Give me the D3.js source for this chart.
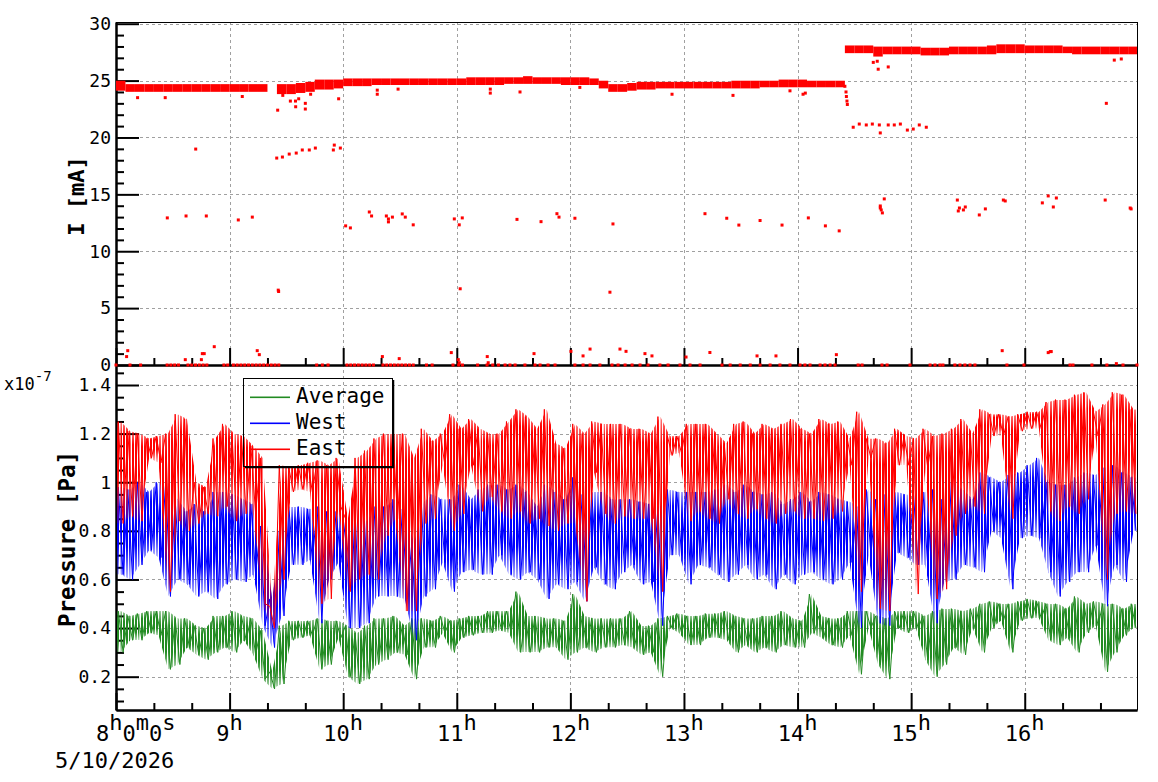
<!DOCTYPE html>
<html>
<head>
<meta charset="utf-8">
<script src="https://cdn.jsdelivr.net/npm/d3@7"></script>
<style>
  body { margin: 0; background: #fff; }
  svg { display: block; }
  text { font-family: "DejaVu Sans Mono", monospace; fill: #000; }
</style>
</head>
<body>
<svg id="chart" width="1158" height="782"></svg>
<script>
// ---- data ----
// time is in minutes after 8:00, 5/10/2026; pressure values are in units of 1e-7 Pa
const binMin = 5;

// pressure envelope per 5-minute bin: highest and lowest excursion
const eastHi = [1.25,1.21,1.2,1.18,1.19,1.2,1.28,1.26,1.0,0.98,1.18,1.24,1.2,1.19,1.15,1.1,0.49,1.07,1.06,1.07,1.08,1.09,
  1.07,1.1,0.85,1.1,1.13,1.18,1.2,1.2,1.2,1.1,1.22,1.17,1.2,1.28,1.22,1.26,1.22,1.2,1.2,1.25,1.3,
  1.27,1.22,1.3,1.16,1.14,1.24,1.2,1.25,1.24,1.24,1.24,1.22,1.22,1.2,1.27,1.19,1.19,1.24,1.24,1.24,1.2,1.16,
  1.24,1.25,1.2,1.24,1.22,1.24,1.26,1.22,1.2,1.26,1.24,1.25,1.18,1.29,1.18,1.18,1.16,1.22,1.19,1.18,1.22,
  1.19,1.2,1.22,1.26,1.2,1.3,1.28,1.28,1.27,1.28,1.29,1.29,1.33,1.34,1.34,1.36,1.37,1.29,1.32,1.37,1.36,1.3];
const eastLo = [0.83,0.86,0.84,1.1,1.08,0.55,0.84,0.8,0.83,0.87,0.86,0.9,0.84,0.87,0.87,0.5,0.4,0.6,0.96,0.97,0.96,0.5,
  0.52,0.9,0.55,0.6,0.62,0.6,0.78,0.85,0.47,0.47,0.83,0.85,1.07,0.8,0.87,1.07,0.88,0.94,0.88,0.85,0.88,
  0.83,0.85,0.82,0.8,0.83,0.83,0.51,1.04,0.87,0.83,0.86,0.85,0.85,0.85,0.55,1.11,1.12,0.84,0.88,0.85,0.83,0.93,
  0.87,0.85,0.89,0.85,0.83,0.87,0.88,0.85,0.85,0.84,0.85,0.88,1.07,0.55,1.1,0.48,0.47,1.07,1.07,0.54,1.06,
  0.52,0.56,0.78,0.87,0.9,0.87,1.19,1.19,0.85,1.21,1.22,1.22,0.88,0.84,0.9,0.87,0.93,1.19,0.6,0.87,0.88,0.87];
const westHi = [0.98,0.97,1.0,0.96,1.0,1.0,0.93,0.88,0.91,0.88,0.96,0.96,0.95,0.93,0.91,0.82,0.52,0.8,0.9,0.9,0.89,0.9,
  0.88,0.88,0.84,0.89,0.84,0.9,0.9,0.93,0.89,0.75,0.92,0.95,0.93,0.93,0.99,0.93,0.97,0.99,0.99,0.97,0.99,
  0.96,0.9,0.99,0.96,0.93,1.02,0.95,0.96,0.96,0.93,0.93,0.93,0.92,0.91,0.9,0.97,0.96,0.96,0.96,0.96,0.97,0.99,
  0.96,0.99,0.96,0.95,0.96,0.91,0.93,0.96,0.92,0.96,0.95,0.93,0.92,0.9,0.97,0.93,0.95,0.96,0.95,0.95,0.96,
  0.97,0.93,1.0,0.97,0.93,1.04,1.02,1.0,1.03,1.04,1.07,1.1,1.0,0.99,0.99,1.02,1.04,1.03,1.06,1.07,1.04,1.02];
const westLo = [0.62,0.6,0.66,0.72,0.69,0.53,0.6,0.58,0.53,0.55,0.52,0.58,0.6,0.59,0.62,0.41,0.32,0.45,0.66,0.66,0.68,0.42,
  0.6,0.67,0.4,0.4,0.42,0.53,0.53,0.53,0.52,0.35,0.53,0.56,0.67,0.55,0.63,0.64,0.62,0.62,0.7,0.62,0.6,
  0.63,0.6,0.52,0.58,0.56,0.59,0.51,0.65,0.58,0.56,0.63,0.66,0.58,0.59,0.41,0.7,0.7,0.58,0.66,0.65,0.62,0.59,
  0.62,0.66,0.6,0.62,0.56,0.62,0.58,0.62,0.63,0.6,0.58,0.6,0.67,0.4,0.7,0.42,0.41,0.71,0.69,0.66,0.66,
  0.42,0.59,0.6,0.66,0.65,0.63,0.8,0.77,0.56,0.77,0.78,0.77,0.63,0.53,0.59,0.63,0.63,0.74,0.49,0.66,0.59,0.8];
const avgHi = [0.47,0.45,0.46,0.47,0.47,0.47,0.44,0.44,0.41,0.4,0.45,0.45,0.47,0.45,0.44,0.39,0.22,0.41,0.43,0.43,0.43,0.44,
  0.43,0.43,0.41,0.38,0.41,0.44,0.44,0.45,0.41,0.44,0.44,0.43,0.45,0.43,0.44,0.45,0.45,0.47,0.47,0.47,0.55,
  0.45,0.45,0.44,0.44,0.43,0.54,0.45,0.44,0.44,0.44,0.44,0.47,0.41,0.41,0.44,0.45,0.46,0.45,0.45,0.46,0.46,0.47,
  0.45,0.44,0.44,0.45,0.45,0.47,0.44,0.43,0.54,0.45,0.44,0.44,0.47,0.47,0.47,0.45,0.44,0.47,0.47,0.47,0.45,
  0.47,0.48,0.48,0.47,0.48,0.5,0.51,0.5,0.5,0.51,0.52,0.51,0.5,0.5,0.48,0.53,0.5,0.51,0.5,0.5,0.48,0.5];
const avgLo = [0.3,0.35,0.35,0.38,0.37,0.23,0.25,0.32,0.29,0.27,0.3,0.32,0.3,0.35,0.29,0.19,0.15,0.17,0.35,0.36,0.37,0.23,
  0.25,0.36,0.2,0.17,0.19,0.25,0.27,0.3,0.29,0.19,0.32,0.32,0.38,0.3,0.36,0.37,0.38,0.38,0.39,0.38,0.3,
  0.3,0.3,0.32,0.32,0.27,0.3,0.32,0.3,0.32,0.32,0.33,0.32,0.29,0.3,0.2,0.4,0.38,0.33,0.33,0.36,0.36,0.35,
  0.3,0.33,0.3,0.32,0.3,0.33,0.32,0.32,0.38,0.36,0.33,0.32,0.37,0.21,0.4,0.25,0.19,0.4,0.38,0.4,0.27,
  0.2,0.25,0.32,0.29,0.4,0.3,0.4,0.43,0.3,0.43,0.44,0.44,0.35,0.33,0.36,0.3,0.38,0.41,0.22,0.3,0.37,0.4];

// beam current main band per 5-minute bin (null = no data)
const curLo = [24.2,24.1,24.1,24.1,24.1,24.1,24.1,24.1,24.1,24.1,24.1,24.1,24.1,24.1,24.1,24.1,null,
  23.9,23.9,24.0,24.1,24.3,24.3,24.4,
  24.6,24.6,24.6,24.7,24.7,24.7,24.7,24.7,24.7,24.7,24.7,24.7,24.7,
  24.7,24.7,24.7,24.7,24.8,24.8,24.8,24.8,24.8,24.8,24.7,24.7,24.7,24.7,
  24.4,24.1,24.1,24.2,
  24.3,24.3,24.4,24.4,24.4,24.4,24.4,24.4,24.4,24.4,24.4,
  24.4,24.4,24.5,24.5,24.5,24.5,24.5,24.5,24.5,24.5,24.5,
  27.5,27.5,27.5,27.2,
  27.4,27.4,27.4,27.4,27.3,27.3,27.3,27.4,27.4,27.4,27.4,27.4,27.5,27.5,27.5,27.5,27.5,27.5,27.5,27.5,27.4,27.4,27.4,27.4,27.4,27.4,27.4];
const curHi = [24.9,24.6,24.6,24.6,24.6,24.6,24.6,24.6,24.6,24.6,24.6,24.6,24.6,24.6,24.6,24.6,null,
  24.6,24.6,24.7,24.8,25.0,25.0,25.0,
  25.1,25.1,25.1,25.1,25.1,25.1,25.1,25.1,25.1,25.1,25.1,25.1,25.1,
  25.2,25.2,25.2,25.2,25.2,25.2,25.3,25.2,25.2,25.2,25.2,25.2,25.2,25.1,
  24.9,24.6,24.6,24.7,
  24.8,24.8,24.8,24.8,24.8,24.8,24.8,24.8,24.8,24.8,24.9,
  24.9,24.9,24.9,24.9,25.0,25.0,25.0,24.9,24.9,24.9,24.9,
  28.0,28.0,28.0,27.9,
  27.9,27.9,27.9,27.9,27.8,27.8,27.8,27.9,27.9,27.9,27.9,28.0,28.1,28.1,28.1,28.0,28.0,28.0,28.0,27.9,27.9,27.9,27.9,27.9,27.9,27.9,27.9];

// isolated beam current readings [mA] and their times [min]
const outT = [11.4,26,66.7,42.1,27.1,37,47.7,64.6,72,
  84.9,87.9,91.5,95.2,98.4,102.1,105.3,114.8,115.3,118.5,85.7,85.9,
  85.4,92.1,94.8,94.9,96.5,100,100,102.8,117.6,88.1,
  121.3,123.8,133.8,135,142.8,143.9,143.9,146,151.2,152.8,157,178.7,181.3,182.9,181.8,
  138,138,149,197.7,197.7,
  5.6,6.2,51.9,45.6,46.6,45.1,36.6,74.6,75.7,177.1,180.8,181.3,140.7,149.6,196.1,196.6,
  211.8,224.5,232.9,234,242.4,262.5,260.9,311.1,322.6,329,340.2,351.8,365.7,374.7,382,
  213.4,245,293.7,325.9,356,362.9,364.1,
  220.8,240.3,246.7,250.4,266.2,269.4,279.4,283.1,301.1,313.7,338.6,348.6,380.5,
  385,385.6,385.8,386.1,386.3,
  389.4,392.6,396.3,399.5,403.2,403.7,407.9,411.1,414.3,418,421.1,424.3,428,
  400,402.6,407.9,402.1,523.1,527.3,531,
  403.7,403.7,404.2,404.8,405.8,444.4,444.9,445.5,447.6,448.6,456,459.2,468.7,469.7,
  489.3,492.4,495.1,496.7,522.5,535.7,536.2,
  468.1,492.4,493.5,494,528.4];
const outV = [23.5,23.5,23.6,18.98,12.93,13.1,13.1,12.75,13.0,
  18.19,18.28,18.54,18.63,18.9,18.9,19.07,18.9,19.33,19.07,6.58,6.46,
  22.4,23.2,23.2,22.7,23.4,22.5,23.0,23.8,23.4,23.7,
  12.23,12.05,13.45,13.1,13.1,12.84,12.58,13.0,13.28,13.0,12.32,12.84,12.32,12.93,6.7,
  24.16,23.8,24.25,24.25,23.9,
  0.74,1.26,1.61,1.0,1.0,0.47,0.47,1.26,0.91,1.09,0.47,0.2,0.74,0.56,0.74,0.2,
  12.8,12.6,13.3,13.0,12.9,12.4,6.4,13.3,12.9,12.3,12.7,12.3,12.93,12.23,11.79,
  24.0,24.4,23.8,23.7,24.1,23.8,23.9,
  1.0,1.2,0.8,1.4,1.4,1.2,1.0,0.8,0.7,1.1,0.8,0.8,0.91,
  24.5,24.0,23.6,23.2,22.9,
  20.9,21.18,21.1,21.18,21.1,20.4,21.1,21.1,21.18,20.65,20.74,21.1,20.9,
  26.6,26.0,26.2,26.7,23.0,26.8,26.9,
  13.98,13.8,13.63,13.37,14.6,14.5,13.54,13.8,13.63,13.89,13.19,13.72,14.5,14.42,
  14.25,14.86,13.89,14.68,14.5,13.8,13.72,
  1.26,1.09,1.18,1.18,0.12];
// times [min] of readings at 0 mA
const zeroT = [0,7.4,13,27,29,31,33,38,40,42,44,46,48,57,59,62,64,66,68,70,72,74,76,78,80,82,84,86,
  106,109,112,122,124,126,128,130,132,134,136,141,143,145,147,149,151,153,155,157,164,167,178,181,183,191,196,199,202,
  205.5,208.1,210.8,216,221.3,224,228.2,231.9,242.4,246.7,250.4,255.6,262,265.2,268.9,272.6,276.8,281,287.3,291.6,
  297.9,303.2,308.5,320.1,324.4,329.7,335,340.2,345.5,350.7,356,
  361.3,363.9,366.6,371.9,374.5,377.2,379.8,392,394.1,404.6,407.3,419.4,430,432.6,435.2,436.8,443.1,445.8,448.4,
  451.1,453.7,470.6,479.6,503.9,505.5,515.5,523.4,531.9,539.3];

const hourTicks = [0,60,120,180,240,300,360,420,480];
const hourLabels = ["8","9","10","11","12","13","14","15","16"];
const dateLabel = "5/10/2026";
const curTicks = [0,5,10,15,20,25,30];
const presTicks = [0.2,0.4,0.6,0.8,1.0,1.2,1.4];
// how densely each trace fills its envelope, top -> bottom (styling only)
const series = [
  { key: "avg", name: "Average", hi: avgHi, lo: avgLo, color: "#228b22",
    fade: [[0, 0.45], [0.25, 1], [0.7, 1], [1, 0.3]] },
  { key: "west", name: "West", hi: westHi, lo: westLo, color: "#0000ff",
    fade: [[0, 0.35], [0.25, 1], [0.65, 1], [1, 0.25]] },
  { key: "east", name: "East", hi: eastHi, lo: eastLo, color: "#ff0000",
    fade: [[0, 0.5], [0.15, 1], [0.5, 1], [1, 0.15]] }
];

// ---- layout ----
const svg = d3.select("#chart"),
    L = 116, R = 1137, T = 22, M = 365, B = 710, tEnd = 539.3;

const x = d3.scaleLinear().domain([0, tEnd]).range([L, R]),
    yI = d3.scaleLinear().domain([0, 30.15]).range([M, T]),
    yP = d3.scaleLinear().domain([0.063, 1.4823]).range([B, M]);

const minorX = d3.range(20, 540, 20).filter(d => d % 60 !== 0),
    minorI = d3.range(1, 31).filter(d => d % 5 !== 0),
    minorP = d3.range(0.1, 1.47, 0.05).map(d => +d.toFixed(2)).filter(d => Math.round(d * 100) % 20 !== 0);

// hatch + fade: dense vertical strokes that thin out toward the envelope edges
const defs = svg.append("defs");
series.forEach(s => {
    const p = defs.append("pattern")
        .attr("id", "hatch-" + s.key)
        .attr("patternUnits", "userSpaceOnUse")
        .attr("width", 3).attr("height", 8);
    p.append("rect").attr("x", 0).attr("y", 0).attr("width", 2).attr("height", 8).attr("fill", s.color);
    const gr = defs.append("linearGradient")
        .attr("id", "fade-" + s.key)
        .attr("x1", 0).attr("y1", 0).attr("x2", 0).attr("y2", 1);
    s.fade.forEach(([o, v]) => gr.append("stop").attr("offset", o).attr("stop-color", "#fff").attr("stop-opacity", v));
    defs.append("mask")
        .attr("id", "mask-" + s.key)
        .attr("maskUnits", "objectBoundingBox")
        .attr("maskContentUnits", "objectBoundingBox")
        .attr("x", 0).attr("y", 0).attr("width", 1).attr("height", 1)
        .append("rect").attr("width", 1).attr("height", 1).attr("fill", `url(#fade-${s.key})`);
});

// grid
const grid = svg.append("g")
    .attr("stroke", "#a0a0a0")
    .attr("stroke-width", 1)
    .attr("stroke-dasharray", "3,3");
grid.selectAll("line.gx")
    .data(hourTicks.slice(1))
    .join("line")
    .attr("class", "gx")
    .attr("x1", d => Math.round(x(d)) + 0.5).attr("x2", d => Math.round(x(d)) + 0.5)
    .attr("y1", T).attr("y2", B);
grid.selectAll("line.gi")
    .data(curTicks.slice(1))
    .join("line")
    .attr("class", "gi")
    .attr("x1", L).attr("x2", R)
    .attr("y1", d => Math.round(yI(d)) + 0.5).attr("y2", d => Math.round(yI(d)) + 0.5);
grid.selectAll("line.gp")
    .data(presTicks)
    .join("line")
    .attr("class", "gp")
    .attr("x1", L).attr("x2", R)
    .attr("y1", d => Math.round(yP(d)) + 0.5).attr("y2", d => Math.round(yP(d)) + 0.5);

// ---- axes ----
function styleAxis(g) {
    g.selectAll("path.domain").attr("stroke", "#000").attr("stroke-width", 2);
    g.selectAll(".tick line").attr("stroke", "#000").attr("stroke-width", 2);
    g.selectAll(".tick text").attr("font-family", "DejaVu Sans Mono").attr("font-size", 18);
}

svg.append("g").attr("transform", `translate(${L},0)`)
    .call(d3.axisLeft(yI).tickValues(minorI).tickSize(-8).tickSizeOuter(0).tickFormat(""))
    .call(styleAxis);
svg.append("g").attr("transform", `translate(${L},0)`)
    .call(d3.axisLeft(yI).tickValues(curTicks).tickSize(-23).tickSizeOuter(0).tickPadding(5))
    .call(styleAxis);

svg.append("g").attr("transform", `translate(${L},0)`)
    .call(d3.axisLeft(yP).tickValues(minorP).tickSize(-8).tickSizeOuter(0).tickFormat(""))
    .call(styleAxis);
svg.append("g").attr("transform", `translate(${L},0)`)
    .call(d3.axisLeft(yP).tickValues(presTicks).tickSize(-23).tickSizeOuter(0).tickPadding(5)
        .tickFormat(d => String(+d.toFixed(1))))
    .call(styleAxis);

[M, B].forEach(yy => {
    svg.append("g").attr("transform", `translate(0,${yy})`)
        .call(d3.axisBottom(x).tickValues(minorX).tickSize(-7).tickSizeOuter(0).tickFormat(""))
        .call(styleAxis);
    svg.append("g").attr("transform", `translate(0,${yy})`)
        .call(d3.axisBottom(x).tickValues(hourTicks).tickSize(-17).tickSizeOuter(0).tickFormat(""))
        .call(styleAxis);
});

svg.append("g").attr("stroke", "#000").attr("stroke-width", 1)
    .call(g => g.append("line").attr("x1", L).attr("x2", R + 0.5).attr("y1", T + 0.5).attr("y2", T + 0.5))
    .call(g => g.append("line").attr("x1", R + 0.5).attr("x2", R + 0.5).attr("y1", T).attr("y2", B));

// ---- top panel: beam current ----
const cur = svg.append("g").attr("fill", "#ff0000");
cur.selectAll("rect.band")
    .data(curLo.map((lo, i) => ({ i, lo, hi: curHi[i] })).filter(d => d.lo !== null))
    .join("rect")
    .attr("class", "band")
    .attr("x", d => x(d.i * binMin))
    .attr("width", d => x(Math.min((d.i + 1) * binMin, tEnd)) - x(d.i * binMin))
    .attr("y", d => yI(d.hi) - 1)
    .attr("height", d => yI(d.lo) - yI(d.hi) + 2);
cur.selectAll("rect.out")
    .data(outT.map((t, i) => [t, outV[i]]))
    .join("rect")
    .attr("class", "out")
    .attr("x", d => x(d[0]) - 1.5).attr("y", d => yI(d[1]) - 1.5)
    .attr("width", 3).attr("height", 3);
cur.selectAll("rect.zero")
    .data(zeroT)
    .join("rect")
    .attr("class", "zero")
    .attr("x", d => x(d) - 1.5).attr("y", yI(0) - 1.5)
    .attr("width", 3).attr("height", 3);

// ---- bottom panel: pressure traces ----
const zig = d3.line().x(d => x(d[0])).y(d => yP(d[1]));
series.forEach(s => {
    // envelope between bin centres, one piece per pair of bins
    const n = s.hi.length,
        cents = s.hi.map((h, i) => ({ t: i * binMin + binMin / 2, h, l: s.lo[i] })),
        ext = [{ t: 0, h: s.hi[0], l: s.lo[0] }, ...cents, { t: tEnd, h: s.hi[n - 1], l: s.lo[n - 1] }];
    svg.append("g")
        .selectAll("path")
        .data(d3.pairs(ext))
        .join("path")
        .attr("d", ([a, b]) => `M${x(a.t)},${yP(a.h)}L${x(b.t)},${yP(b.h)}L${x(b.t)},${yP(b.l)}L${x(a.t)},${yP(a.l)}Z`)
        .attr("fill", `url(#hatch-${s.key})`)
        .attr("mask", `url(#mask-${s.key})`);
    // the extremes themselves, high then low within each bin
    const pts = [];
    s.hi.forEach((h, i) => {
        pts.push([i * binMin + binMin * 0.25, h]);
        pts.push([i * binMin + binMin * 0.75, s.lo[i]]);
    });
    svg.append("path")
        .datum(pts)
        .attr("fill", "none")
        .attr("stroke", s.color)
        .attr("stroke-width", 1)
        .attr("d", zig);
});

// ---- labels ----
const xl = svg.append("g").attr("font-size", 22);
xl.selectAll("text.hl")
    .data(hourTicks.slice(1).map((t, i) => ({ t, lab: hourLabels[i + 1] })))
    .join("text")
    .attr("class", "hl")
    .attr("x", d => x(d.t))
    .attr("y", 741)
    .attr("text-anchor", "middle")
    .call(t => t.append("tspan").text(d => d.lab))
    .call(t => t.append("tspan").attr("dy", -11).text("h"));
const first = xl.append("text").attr("x", 96).attr("y", 741);
[[hourLabels[0], 0], ["h", -11], ["0", 11], ["m", -11], ["0", 11], ["s", -11]].forEach(([s, dy]) => {
    first.append("tspan").attr("dy", dy).text(s);
});
xl.append("text").attr("x", 55).attr("y", 768).text(dateLabel);

const ex = svg.append("text").attr("x", 4).attr("y", 390).attr("font-size", 17);
ex.append("tspan").text("x10");
ex.append("tspan").attr("dy", -9).attr("font-size", 14).text("-7");

svg.append("text")
    .attr("transform", "translate(84,196) rotate(-90)")
    .attr("text-anchor", "middle")
    .attr("font-size", 22).attr("font-weight", "bold")
    .text("I [mA]");
svg.append("text")
    .attr("transform", "translate(75,539) rotate(-90)")
    .attr("text-anchor", "middle")
    .attr("font-size", 22.5).attr("font-weight", "bold")
    .text("Pressure [Pa]");

// ---- legend ----
const lg = svg.append("g").attr("class", "legend");
lg.append("rect")
    .attr("x", 243.5).attr("y", 378.5).attr("width", 149).attr("height", 88)
    .attr("fill", "none").attr("stroke", "#000").attr("stroke-width", 1);
lg.append("path")
    .attr("d", "M393.5,380V467.5H245")
    .attr("fill", "none").attr("stroke", "#000").attr("stroke-width", 1.5);
series.forEach((s, i) => {
    const yy = 397 + i * 26;
    lg.append("rect")
        .attr("x", 250).attr("y", yy - 0.5).attr("width", 40).attr("height", 1.6)
        .attr("fill", s.color);
    lg.append("text")
        .attr("x", 296).attr("y", yy + 6)
        .attr("font-size", 21)
        .text(s.name);
});
</script>
</body>
</html>
